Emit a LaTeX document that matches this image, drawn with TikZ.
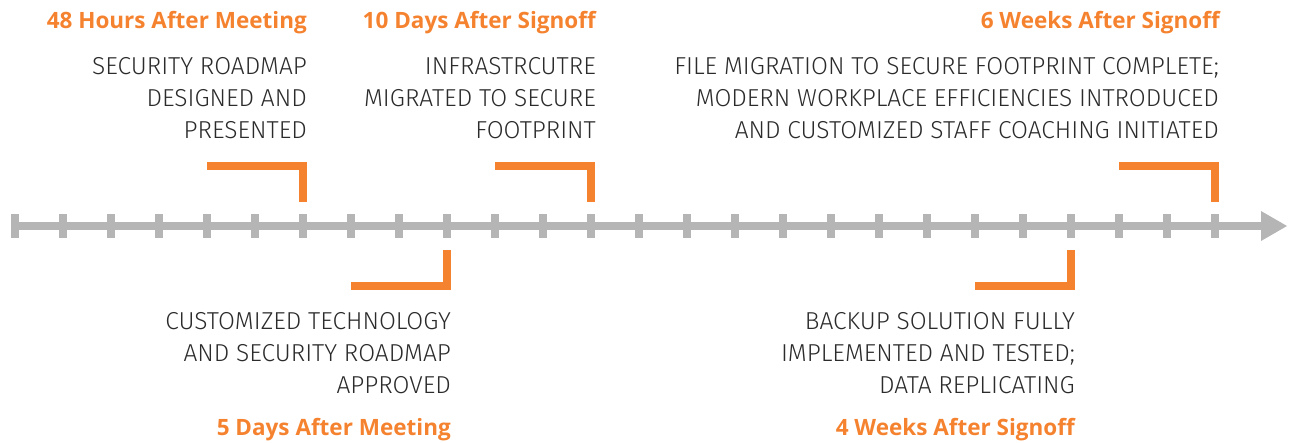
\documentclass[tikz,border=0pt]{standalone}
\usepackage{fontspec}
\setmainfont{Fira Sans}
\newfontfamily\lightfont{Fira Sans Light}
\newfontfamily\titlefont{Open Sans}
\definecolor{axisgray}{HTML}{B5B5B5}
\definecolor{accent}{HTML}{F5822F}
\definecolor{bodytext}{HTML}{2B2B2B}
\tikzset{
  axisline/.style={draw=axisgray, line width=8pt, line cap=butt},
  tickmark/.style={fill=axisgray, draw=none},
  bracket/.style={draw=accent, line width=8pt, line cap=butt, line join=miter},
  title/.style={anchor=base east, inner sep=0pt, text=accent, font=\titlefont\fontsize{22.5}{26}\selectfont\bfseries},
  body/.style={anchor=base east, inner sep=0pt, text=bodytext, font=\lightfont\fontsize{24.5}{32}\selectfont},
}
\begin{document}
\begin{tikzpicture}[x=1pt,y=-1pt]
\useasboundingbox (0,0) rectangle (1289,442);
% axis
\coordinate (axstart) at (11,226);
\coordinate (axend) at (1261,226);
\draw[axisline] (axstart) -- (axend);
\fill[axisgray] (1261,211) -- (1287,226) -- (1261,241) -- cycle;
\foreach \i in {0,...,25}{
  \coordinate (tk\i) at ({15+48*\i},226);
  \fill[tickmark] ({11+48*\i},214) rectangle ({19+48*\i},238);
}
% brackets
\draw[bracket] (207,166) -- (303,166) -- (303,202);
\draw[bracket] (495,166) -- (591,166) -- (591,202);
\draw[bracket] (1119,166) -- (1215,166) -- (1215,202);
\draw[bracket] (351,286) -- (447,286) -- (447,250);
\draw[bracket] (975,286) -- (1071,286) -- (1071,250);
% block 1
\node[title] (t1) at (307,28) {48 Hours After Meeting};
\node[body] (b1a) at (307,74) {SECURITY ROADMAP};
\node[body] (b1b) at (307,106) {DESIGNED AND};
\node[body] (b1c) at (307,138) {PRESENTED};
% block 2
\node[title] (t2) at (596,28) {10 Days After Signoff};
\node[body] (b2a) at (596,74) {INFRASTRCUTRE};
\node[body] (b2b) at (596,106) {MIGRATED TO SECURE};
\node[body] (b2c) at (596,138) {FOOTPRINT};
% block 3
\node[title] (t3) at (1220,28) {6 Weeks After Signoff};
\node[body] (b3a) at (1219,74) {FILE MIGRATION TO SECURE FOOTPRINT COMPLETE;};
\node[body] (b3b) at (1219,106) {MODERN WORKPLACE EFFICIENCIES INTRODUCED};
\node[body] (b3c) at (1219,138) {AND CUSTOMIZED STAFF COACHING INITIATED};
% block 4
\node[body] (b4a) at (451,329) {CUSTOMIZED TECHNOLOGY};
\node[body] (b4b) at (451,361) {AND SECURITY ROADMAP};
\node[body] (b4c) at (451,393) {APPROVED};
\node[title] (t4) at (451,435) {5 Days After Meeting};
% block 5
\node[body] (b5a) at (1075,329) {BACKUP SOLUTION FULLY};
\node[body] (b5b) at (1075,361) {IMPLEMENTED AND TESTED;};
\node[body] (b5c) at (1075,393) {DATA REPLICATING};
\node[title] (t5) at (1075,435) {4 Weeks After Signoff};
\end{tikzpicture}
\end{document}
